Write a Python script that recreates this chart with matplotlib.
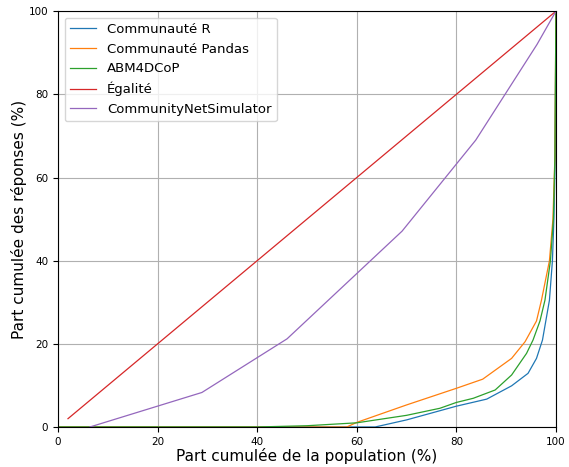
import matplotlib
matplotlib.use("Agg")
import matplotlib.pyplot as plt

# ── Data ──────────────────────────────────────────────────────────
r_x = [0, 63.7, 70, 80, 86.1, 91.1, 94.4, 96.1, 97.3, 98.7, 99.3, 99.6, 99.85, 100]
r_y = [0, 0, 1.7, 5.0, 6.7, 9.9, 12.9, 16.5, 20.9, 30.5, 40, 50, 65, 100]

pandas_x = [0, 58, 60, 70, 80, 85.3, 91.1, 93.8, 96.1, 97.1, 98.7, 99.4, 99.8, 100]
pandas_y = [0, 0, 1.1, 5.3, 9.3, 11.5, 16.5, 20.5, 25.5, 30.5, 40, 50, 65, 100]

abm_x = [0, 40, 50, 60, 70, 76.7, 80, 83.4, 87.8, 91.1, 94.1, 95.4, 96.8, 97.8,
         98.9, 99.5, 99.8, 100]
abm_y = [0, 0, 0.3, 1.0, 2.8, 4.5, 5.9, 6.9, 8.9, 12.5, 17.7, 20.9, 25.5, 30.5,
         40, 50, 65, 100]

egal_x = [2, 100]
egal_y = [2, 100]

cns_x = [6.4, 28.9, 46.0, 69.1, 83.9, 96.2, 100]
cns_y = [0, 8.3, 21.2, 47.1, 69.0, 92.0, 100]

# ── Figure ────────────────────────────────────────────────────────
fig = plt.figure(figsize=(5.69, 4.67), dpi=100)
ax = fig.add_axes([0.102, 0.0857, 0.875, 0.8903])

lw = 0.9
ax.plot(r_x, r_y, color="#1f77b4", lw=lw, label="Communauté R")
ax.plot(pandas_x, pandas_y, color="#ff7f0e", lw=lw, label="Communauté Pandas")
ax.plot(abm_x, abm_y, color="#2ca02c", lw=lw, label="ABM4DCoP")
ax.plot(egal_x, egal_y, color="#d62728", lw=lw, label="Égalité")
ax.plot(cns_x, cns_y, color="#9467bd", lw=lw, label="CommunityNetSimulator")

ax.set_xlim(0, 100)
ax.set_ylim(0, 100)
ax.grid(True)
ax.tick_params(labelsize=7.5)
ax.set_xlabel("Part cumulée de la population (%)", fontsize=11, labelpad=1)
ax.set_ylabel("Part cumulée des réponses (%)", fontsize=11, labelpad=1)
ax.legend(loc="upper left", fontsize=9.5)

fig.savefig("out.png", dpi=100)
